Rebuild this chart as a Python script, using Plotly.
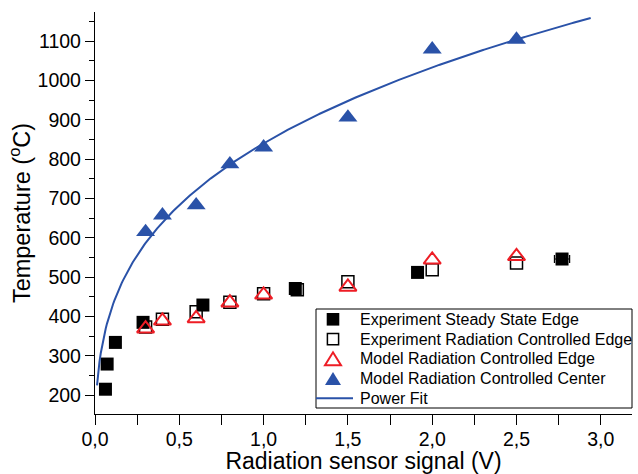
import numpy as np
import plotly.graph_objects as go

# Experiment, steady state, edge (filled squares)
steady_x = [0.062, 0.072, 0.121, 0.285, 0.64, 1.188, 1.913, 2.77]
steady_y = [215, 279, 334, 385, 429, 471, 512, 546]
steady_xerr = [0, 0, 0, 0, 0, 0.025, 0, 0.045]

# Experiment, radiation controlled, edge (open squares)
rc_edge_x = [0.30, 0.40, 0.60, 0.80, 1.00, 1.20, 1.50, 2.00, 2.50]
rc_edge_y = [373, 393, 412, 436, 458, 468, 488, 519, 536]

# Model, radiation controlled, edge (open red triangles)
model_edge_x = [0.3, 0.4, 0.6, 0.8, 1.0, 1.5, 2.0, 2.5]
model_edge_y = [369, 389, 395, 435, 455, 475, 544, 553]

# Model, radiation controlled, center (filled blue triangles)
model_center_x = [0.3, 0.4, 0.6, 0.8, 1.0, 1.5, 2.0, 2.5]
model_center_y = [615, 657, 683, 787, 830, 906, 1079, 1104]

fit_x_range = (0.012, 2.94)

legend_labels = [
    "Experiment Steady State Edge",
    "Experiment Radiation Controlled Edge",
    "Model Radiation Controlled Edge",
    "Model Radiation Controlled Center",
    "Power Fit",
]

BLUE = "#2A52A8"
RED = "#EE1D25"
FONT = "Arial, Liberation Sans, sans-serif"

W, H = 638, 474
M_L, M_R, M_T, M_B = 95, 6, 12, 60

# Power fit T = a * V^b to the centre model points (least squares)
xc = np.array(model_center_x)
yc = np.array(model_center_y)
b, ln_a = np.polyfit(np.log(xc), np.log(yc), 1)
a = np.exp(ln_a)
for _ in range(50):
    f = a * xc ** b
    J = np.column_stack([xc ** b, a * xc ** b * np.log(xc)])
    step, *_ = np.linalg.lstsq(J, yc - f, rcond=None)
    a += step[0]
    b += step[1]
fit_x = np.linspace(fit_x_range[0], fit_x_range[1], 400)
fit_y = a * fit_x ** b

fig = go.Figure()

fig.add_trace(go.Scatter(
    x=steady_x, y=steady_y, mode="markers", name=legend_labels[0],
    marker=dict(symbol="square", size=13, color="black", line=dict(width=0)),
    error_x=dict(type="data", array=steady_xerr, color="black", thickness=1.2, width=4),
))
fig.add_trace(go.Scatter(
    x=rc_edge_x, y=rc_edge_y, mode="markers", name=legend_labels[1],
    marker=dict(symbol="square-open", size=12, color="black", line=dict(width=1.5)),
))
fig.add_trace(go.Scatter(
    x=model_edge_x, y=model_edge_y, mode="markers", name=legend_labels[2],
    marker=dict(symbol="triangle-up-open", size=15, color=RED, line=dict(width=2)),
))
fig.add_trace(go.Scatter(
    x=model_center_x, y=model_center_y, mode="markers", name=legend_labels[3],
    marker=dict(symbol="triangle-up", size=16.5, color=BLUE, line=dict(width=0)),
))
fig.add_trace(go.Scatter(
    x=fit_x, y=fit_y, mode="lines", name=legend_labels[4],
    line=dict(color=BLUE, width=2),
))

x_range = [0.0, 3.185]
y_range = [152, 1174]

# ---- compact boxed legend drawn in paper coordinates ----
plot_w = W - M_L - M_R
plot_h = H - M_T - M_B


def px(xp):
    return (xp - M_L) / plot_w


def py(yp):
    return (H - M_B - yp) / plot_h


box_l, box_r, box_t, box_b = 316, 632, 309, 408
row0, row_step = 319.3, 19.75
sym_x, txt_x = 333, 357.5

shapes = [dict(type="rect", xref="paper", yref="paper",
               x0=px(box_l), x1=px(box_r), y0=py(box_b), y1=py(box_t),
               line=dict(color="black", width=1), fillcolor="white", layer="above")]
annotations = []
for i, label in enumerate(legend_labels):
    yc_px = row0 + i * row_step
    annotations.append(dict(
        text=label, xref="paper", yref="paper", x=px(txt_x), y=py(yc_px),
        xanchor="left", yanchor="middle", showarrow=False,
        font=dict(size=16, family=FONT, color="black"),
    ))
    if i in (0, 1):
        half = 6.3 if i == 0 else 5.6
        shapes.append(dict(
            type="rect", xref="paper", yref="paper",
            x0=px(sym_x - half), x1=px(sym_x + half),
            y0=py(yc_px + half), y1=py(yc_px - half),
            fillcolor="black" if i == 0 else "white",
            line=dict(color="black", width=0 if i == 0 else 1.5), layer="above",
        ))
    elif i in (2, 3):
        hw, ht = 8.0, 13.0
        pts = [(sym_x - hw, yc_px + ht / 2), (sym_x + hw, yc_px + ht / 2), (sym_x, yc_px - ht / 2)]
        path = "M " + " L ".join(f"{px(xx):.5f},{py(yy):.5f}" for xx, yy in pts) + " Z"
        shapes.append(dict(
            type="path", xref="paper", yref="paper", path=path,
            fillcolor=BLUE if i == 3 else "white",
            line=dict(color=RED if i == 2 else BLUE, width=2 if i == 2 else 0), layer="above",
        ))
    else:
        shapes.append(dict(
            type="line", xref="paper", yref="paper",
            x0=px(box_l), x1=px(353), y0=py(yc_px), y1=py(yc_px),
            line=dict(color=BLUE, width=2), layer="above",
        ))

fig.update_layout(
    width=W, height=H,
    margin=dict(l=M_L, r=M_R, t=M_T, b=M_B),
    plot_bgcolor="white", paper_bgcolor="white",
    separators=", ",
    font=dict(family=FONT, color="black"),
    showlegend=False,
    shapes=shapes,
    annotations=annotations,
    xaxis=dict(
        range=x_range, dtick=0.5, tick0=0, tickformat=".1f", automargin=False,
        ticks="outside", ticklen=10, tickwidth=1.3, tickcolor="black",
        showline=True, linecolor="black", linewidth=1.3,
        showgrid=False, zeroline=False, ticklabelstandoff=-3,
        tickfont=dict(size=19.5, family=FONT),
        minor=dict(dtick=0.25, ticks="outside", ticklen=10, tickwidth=1.3, tickcolor="black"),
        title=dict(text="Radiation sensor signal (V)", font=dict(size=23, family=FONT), standoff=4),
    ),
    yaxis=dict(
        range=y_range, dtick=100, tick0=0, automargin=False,
        ticks="outside", ticklen=9, tickwidth=1.3, tickcolor="black",
        showline=True, linecolor="black", linewidth=1.3,
        showgrid=False, zeroline=False,
        tickfont=dict(size=19.5, family=FONT),
        minor=dict(dtick=50, ticks="outside", ticklen=4.5, tickwidth=1.3, tickcolor="black"),
        title=dict(text="Temperature (<sup>o</sup>C)", font=dict(size=23.5, family=FONT), standoff=0),
    ),
    xaxis2=dict(
        overlaying="x", side="top", range=x_range, dtick=0.25, tick0=0,
        ticks="inside", ticklen=8, tickwidth=1.3, tickcolor="black",
        showticklabels=False, showline=True, linecolor="black", linewidth=1.3,
        showgrid=False, zeroline=False,
    ),
    yaxis2=dict(
        overlaying="y", side="right", range=y_range, dtick=100, tick0=0,
        ticks="inside", ticklen=8, tickwidth=1.3, tickcolor="black",
        showticklabels=False, showline=True, linecolor="black", linewidth=1.3,
        showgrid=False, zeroline=False,
        minor=dict(dtick=50, ticks="inside", ticklen=3, tickwidth=1.3, tickcolor="black"),
    ),
)

fig.write_html("out.html")
